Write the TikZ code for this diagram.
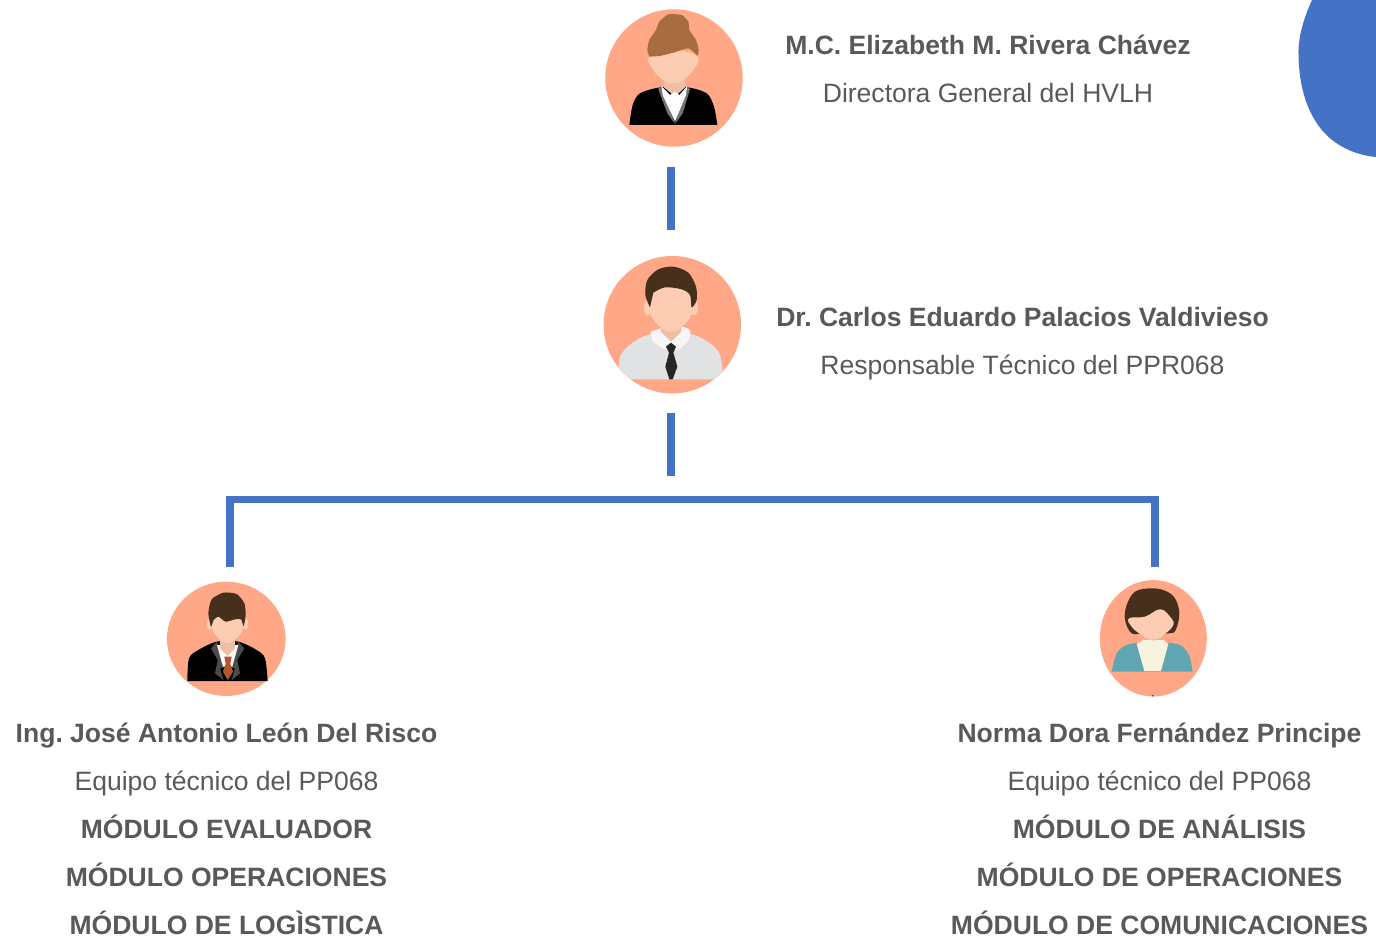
\documentclass[tikz,border=0pt]{standalone}
\usepackage{fontspec}
\setmainfont{Liberation Sans}
\frenchspacing
\usetikzlibrary{shapes.geometric}
\definecolor{peach}{HTML}{FFA786}
\definecolor{bluex}{HTML}{4472C4}
\definecolor{textc}{HTML}{595959}
\definecolor{skin}{HTML}{FCCDB2}
\definecolor{neck}{HTML}{EDBFA5}
\definecolor{auburn}{HTML}{A86C42}
\definecolor{darkhair}{HTML}{46301C}
\definecolor{shirtg}{HTML}{E1E2E4}
\definecolor{teal}{HTML}{5FA6B2}
\definecolor{cream}{HTML}{F8F3DE}
\definecolor{rust}{HTML}{B5552C}
\tikzset{
  x=0.02cm,y=-0.02cm,
  nm/.style={font=\fontsize{15.1}{18}\selectfont\bfseries,text=textc,inner sep=0pt,anchor=base},
  rl/.style={font=\fontsize{15.1}{18}\selectfont,text=textc,inner sep=0pt,anchor=base},
  bar/.style={draw=bluex,line width=0.156cm,line cap=butt,line join=miter},
  avatar/.style={circle,fill=peach,inner sep=0pt},
  avatarel/.style={ellipse,fill=peach,inner sep=0pt},
}
\begin{document}
\begin{tikzpicture}
\useasboundingbox (0,0) rectangle (1376,937);
\fill[bluex] (1312,0) .. controls (1303,20) and (1298,38) .. (1298.5,55) .. controls (1299,85) and (1306,110) .. (1321,129) .. controls (1335,146) and (1355,155) .. (1376,157) -- (1376,0) -- cycle;

% avatar nodes
\node[avatar,minimum size=2.75cm] (dir) at (674,78) {};
\node[avatar,minimum size=2.75cm] (resp) at (672.3,324.7) {};
\node[avatarel,minimum width=2.374cm,minimum height=2.287cm] (jose) at (226.3,638.8) {};
\node[avatarel,minimum width=2.14cm,minimum height=2.33cm] (norma) at (1153.3,638.3) {};

% woman with bun
\begin{scope}[shift={(590,0)},x=0.02cm/3,y=-0.02cm/3]
  \fill[black] plot[smooth,tension=.5] coordinates {(118,375) (128,315) (150,280) (212,262) (292,262) (350,280) (372,320) (382,375)} -- cycle;
  \fill[black!55] (205,268) -- (212,258) -- (255,372) -- (232,340) -- cycle;
  \fill[black!55] (300,268) -- (292,258) -- (255,372) -- (278,340) -- cycle;
  \fill[neck] (222,225) -- (285,225) -- (285,262) -- (255,290) -- (222,262) -- cycle;
  \fill[white!92!shirtg] (214,258) -- (240,285) -- (255,275) -- (268,285) -- (292,258) -- (288,285) -- (255,365) -- (218,285) -- cycle;
  \fill[skin] plot[smooth cycle,tension=.7] coordinates {(178,170) (250,150) (322,170) (310,210) (280,240) (250,250) (220,240) (190,210)};
  \fill[auburn] plot[smooth,tension=.35] coordinates {(178,170) (172,150) (178,120) (198,90) (208,65) (235,43) (275,45) (295,65) (298,90) (318,120) (326,150) (322,166) (295,145) (250,158) (210,168)} -- cycle;
\end{scope}

% man with tie
\begin{scope}[shift={(590,250)},x=0.02cm/3,y=-0.02cm/3]
  \begin{scope}
    \clip (247,224) circle[radius=206];
    \fill[shirtg] plot[smooth,tension=.5] coordinates {(85,388) (90,320) (125,280) (185,252) (300,252) (360,280) (390,315) (400,388)} -- cycle;
  \end{scope}
  \fill[white!70!shirtg] plot[smooth,tension=.6] coordinates {(183,245) (190,275) (232,300) (243,285) (260,300) (292,275) (298,238) (243,225)} -- cycle;
  \fill[neck] (212,215) -- (274,215) -- (274,245) -- (243,275) -- (212,245) -- cycle;
  \fill[skin] (174,172) ellipse[x radius=12,y radius=24];
  \fill[skin] (312,172) ellipse[x radius=12,y radius=24];
  \fill[skin] plot[smooth cycle,tension=.7] coordinates {(178,140) (243,105) (308,140) (307,185) (282,225) (243,245) (204,225) (179,185)};
  \fill[darkhair] plot[smooth,tension=.5] coordinates {(180,172) (166,135) (172,90) (205,58) (250,50) (295,68) (318,110) (320,150) (305,172) (300,135) (275,118) (225,112) (190,128)} -- cycle;
  \fill[black!85] (228,290) -- (243,278) -- (258,290) -- (250,308) -- (262,350) -- (248,388) -- (238,388) -- (226,350) -- (237,308) -- cycle;
\end{scope}

% man in suit
\begin{scope}[shift={(155,570)},x=0.02cm/3,y=-0.02cm/3]
  \fill[black] plot[smooth,tension=.5] coordinates {(97,333) (102,265) (130,240) (185,215) (250,215) (305,240) (330,265) (338,333)} -- cycle;
  \fill[black!70] (168,235) -- (185,215) -- (215,290) -- (195,295) -- (205,330) -- (180,310) -- (188,270) -- cycle;
  \fill[black!70] (268,235) -- (250,215) -- (220,290) -- (240,295) -- (230,330) -- (255,310) -- (247,270) -- cycle;
  \fill[white!90!shirtg] (186,225) -- (250,225) -- (232,290) -- (204,290) -- cycle;
  \fill[neck] (195,195) -- (240,195) -- (240,235) -- (218,258) -- (195,235) -- cycle;
  \fill[rust] (208,260) -- (230,260) -- (226,282) -- (234,305) -- (218,330) -- (204,305) -- (212,282) -- cycle;
  \fill[skin] plot[smooth cycle,tension=.7] coordinates {(170,140) (218,110) (266,140) (265,175) (245,205) (218,220) (191,205) (171,175)};
  \fill[skin] (164,162) ellipse[x radius=8,y radius=18];
  \fill[skin] (272,162) ellipse[x radius=8,y radius=18];
  \fill[darkhair] plot[smooth,tension=.4] coordinates {(168,172) (160,130) (170,88) (205,68) (245,72) (268,100) (272,135) (266,168) (258,148) (240,148) (212,155) (190,140) (176,150)} -- cycle;
\end{scope}

% woman in teal
\begin{scope}[shift={(1085,570)},x=0.02cm/3,y=-0.02cm/3]
  \fill[teal] plot[smooth,tension=.5] coordinates {(80,305) (95,250) (125,225) (170,218) (240,218) (285,225) (312,255) (323,305)} -- cycle;
  \fill[cream] (155,222) -- (175,210) -- (235,210) -- (250,222) -- (228,303) -- (178,303) -- cycle;
  \fill[neck] (176,180) -- (232,180) -- (232,205) -- (204,212) -- (176,205) -- cycle;
  \fill[darkhair] plot[smooth cycle,tension=.6] coordinates {(198,55) (150,65) (125,105) (120,150) (140,190) (175,190) (250,190) (272,180) (283,130) (270,85) (240,62)};
  \fill[skin] plot[smooth cycle,tension=.7] coordinates {(132,145) (180,140) (225,118) (255,140) (265,165) (235,195) (204,207) (170,195) (140,170)};
  \fill[black!70] (203,377) circle[radius=3];
\end{scope}

% connectors
\coordinate (a1) at (670.7,167); \coordinate (a2) at (670.7,230);
\coordinate (b1) at (670.7,413); \coordinate (b2) at (670.7,476);
\coordinate (busL) at (229.8,499.5); \coordinate (busR) at (1155,499.5);
\coordinate (legL) at (229.8,567); \coordinate (legR) at (1155,567);
\draw[bar] (a1) -- (a2);
\draw[bar] (b1) -- (b2);
\draw[bar] (legL) -- (busL) -- (busR) -- (legR);

% text
\node[nm] (t1) at (988,54) {M.C. Elizabeth M. Rivera Chávez};
\node[rl] (t2) at (988,102) {Directora General del HVLH};
\node[nm] (t3) at (1022.5,326) {Dr. Carlos Eduardo Palacios Valdivieso};
\node[rl] (t4) at (1022.5,374) {Responsable Técnico del PPR068};
\node[nm] (l1) at (226.5,742) {Ing. José Antonio León Del Risco};
\node[rl] (l2) at (226.5,790) {Equipo técnico del PP068};
\node[nm] (l3) at (226.5,838) {MÓDULO EVALUADOR};
\node[nm] (l4) at (226.5,886) {MÓDULO OPERACIONES};
\node[nm] (l5) at (226.5,934) {MÓDULO DE LOGÌSTICA};
\node[nm] (r1) at (1159.5,742) {Norma Dora Fernández Principe};
\node[rl] (r2) at (1159.5,790) {Equipo técnico del PP068};
\node[nm] (r3) at (1159.5,838) {MÓDULO DE ANÁLISIS};
\node[nm] (r4) at (1159.5,886) {MÓDULO DE OPERACIONES};
\node[nm] (r5) at (1159.5,934) {MÓDULO DE COMUNICACIONES};
\end{tikzpicture}
\end{document}
